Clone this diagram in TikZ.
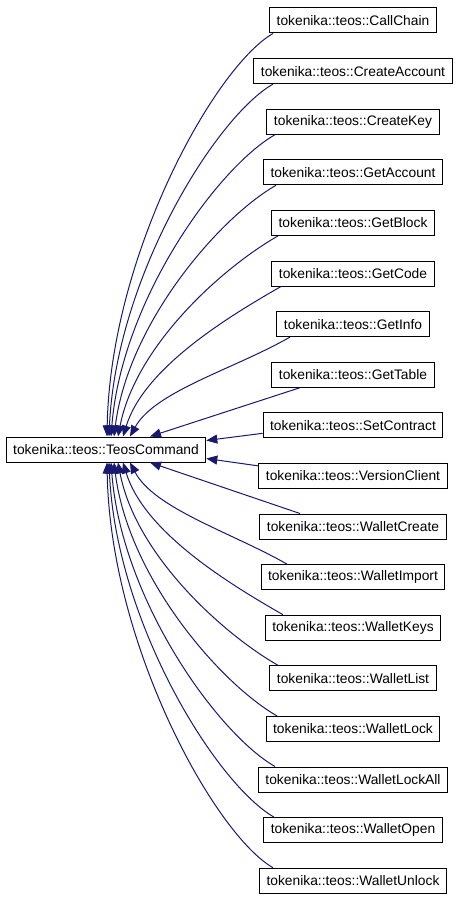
\documentclass[tikz,border=0pt]{standalone}
\usepackage{fontspec}
\setmainfont{Liberation Sans}
\usetikzlibrary{arrows.meta,calc}
\definecolor{edgeblue}{HTML}{191970}

\begin{document}
\begin{tikzpicture}[x=1pt, y=-1pt,
  box/.style={draw=black, line width=1pt, fill=white, inner xsep=7pt, inner ysep=0pt,
    minimum height=25pt, font=\fontsize{13.8}{16}\selectfont},
  edge/.style={draw=edgeblue, line width=1pt, -{Triangle[length=11pt,width=9pt]}}]
  \useasboundingbox (0,0) rectangle (459,899);

  % --- Base class ---
  \node[box] (base) at (106,449.5) {tokenika::teos::TeosCommand};

  % --- Derived classes, one per row ---
  \foreach \name [count=\i from 0] in {CallChain, CreateAccount, CreateKey, GetAccount,
      GetBlock, GetCode, GetInfo, GetTable, SetContract, VersionClient, WalletCreate,
      WalletImport, WalletKeys, WalletList, WalletLock, WalletLockAll, WalletOpen, WalletUnlock} {
    \node[box] (c\i) at (353,{20.5+50.6*\i}) {tokenika::teos::\name};
  }

  % --- Upper curves: leave the bottom edge, land on top of the base ---
  \foreach \i/\sx/\ex in {0/273/107, 1/273/109, 2/275/111, 3/276/114,
      4/278/118, 5/281/123, 6/290/130} {
    \pgfmathsetmacro\w{\sx-\ex}
    \pgfmathsetmacro\h{437-(33+50.6*\i)}
    \pgfmathsetmacro\cx{0.2*\w*(1-\h/450)}
    \draw[edge] ($(c\i.south)+(\sx-353,0)$)
      .. controls ($(c\i.south)+(\sx-353-0.35*\w,0.2*\w)$)
      and ($(base.north)+(\ex-106+\cx,-0.45*\h)$)
      .. ($(base.north)+(\ex-106,0)$);
  }

  % --- Lower curves: leave the top edge, land under the base ---
  \foreach \i/\sx/\ex in {11/287/130, 12/283/123, 13/278/118, 14/277/114,
      15/275/111, 16/274/109, 17/273/107} {
    \pgfmathsetmacro\w{\sx-\ex}
    \pgfmathsetmacro\h{(8+50.6*\i)-462}
    \pgfmathsetmacro\cx{0.2*\w*(1-\h/450)}
    \draw[edge] ($(c\i.north)+(\sx-353,0)$)
      .. controls ($(c\i.north)+(\sx-353-0.35*\w,-0.2*\w)$)
      and ($(base.south)+(\ex-106+\cx,0.45*\h)$)
      .. ($(base.south)+(\ex-106,0)$);
  }

  % --- Nearly straight edges around the middle ---
  \draw[edge] ($(c7.south)+(-53,0)$) -- ($(base.north)+(44,0)$);
  \draw[edge] ($(c10.north)+(-53,0)$) -- ($(base.south)+(44,0)$);
  \draw[edge] ($(c8.west)+(0,8)$) -- ($(base.east)+(0,-9)$);
  \draw[edge] ($(c9.west)+(0,-10)$) -- ($(base.east)+(0,9)$);
\end{tikzpicture}
\end{document}
